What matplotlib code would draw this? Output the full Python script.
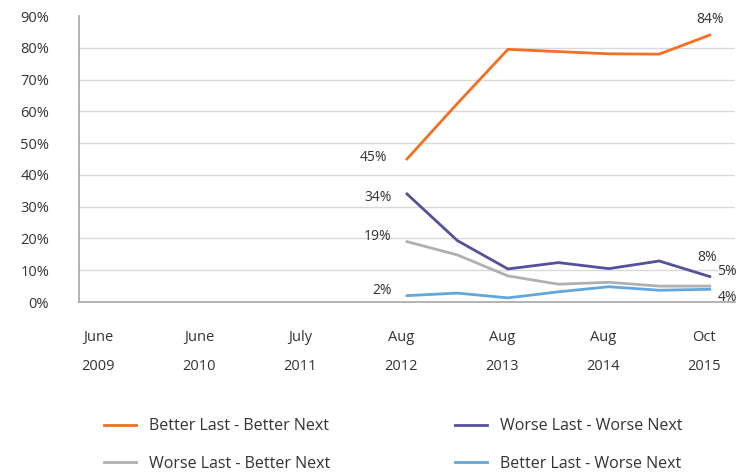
import matplotlib
matplotlib.use("Agg")
import matplotlib.pyplot as plt
import matplotlib.transforms as mtransforms
from matplotlib.lines import Line2D

plt.rcParams["font.family"] = ["Open Sans", "DejaVu Sans"]

# half-yearly survey slots; only every other slot gets a label
tick_labels = ["June\n2009", "June\n2010", "July\n2011", "Aug\n2012",
               "Aug\n2013", "Aug\n2014", "Oct\n2015"]
n_slots = 13
first_slot = 6  # survey series starts at Aug 2012

better_better = [45, 62.5, 79.5, 78.8, 78.1, 78.0, 84]
worse_worse = [34, 19.3, 10.4, 12.4, 10.5, 12.9, 8]
worse_better = [19, 14.8, 8.2, 5.6, 6.2, 5.0, 5]
better_worse = [2, 2.8, 1.3, 3.2, 4.8, 3.7, 4]

series = [
    ("Better Last - Better Next", better_better, "#f36f21"),
    ("Worse Last - Worse Next", worse_worse, "#525199"),
    ("Worse Last - Better Next", worse_better, "#b0b0b0"),
    ("Better Last - Worse Next", better_worse, "#5fa7dc"),
]

TEXT = "#333333"

fig = plt.figure(figsize=(7.38, 4.75), dpi=100)
ax = fig.add_axes([79 / 738, 1 - 302 / 475, 656 / 738, 286 / 475])

xs = list(range(first_slot, first_slot + len(better_better)))
for name, vals, color in series:
    ax.plot(xs, vals, color=color, lw=2, solid_joinstyle="miter", zorder=3)

# end-point annotations
lab = dict(color=TEXT, fontsize=10)
ax.text(xs[0] - 0.4, better_better[0] + 0.5, f"{better_better[0]:.0f}%", ha="right", va="center", **lab)
ax.text(xs[0] - 0.3, worse_worse[0] - 1.0, f"{worse_worse[0]:.0f}%", ha="right", va="center", **lab)
ax.text(xs[0] - 0.3, worse_better[0] + 1.5, f"{worse_better[0]:.0f}%", ha="right", va="center", **lab)
ax.text(xs[0] - 0.3, better_worse[0] + 1.5, f"{better_worse[0]:.0f}%", ha="right", va="center", **lab)
ax.text(xs[-1], better_better[-1] + 2.5, f"{better_better[-1]:.0f}%", ha="center", va="bottom", **lab)
ax.text(xs[-1] - 0.05, worse_worse[-1] + 3.5, f"{worse_worse[-1]:.0f}%", ha="center", va="bottom", **lab)
ax.text(xs[-1] + 0.15, worse_better[-1] + 4.5, f"{worse_better[-1]:.0f}%", ha="left", va="center", **lab)
ax.text(xs[-1] + 0.15, better_worse[-1] - 2.5, f"{better_worse[-1]:.0f}%", ha="left", va="center", **lab)

ax.set_xlim(-0.5, n_slots - 0.5)
ax.set_ylim(0, 90)
ax.set_yticks(range(0, 91, 10))
ax.set_yticklabels([f"{v}%" for v in range(0, 91, 10)])
ax.set_xticks(range(0, n_slots, 2))
ax.set_xticklabels(tick_labels, linespacing=2.25)

for y in range(10, 81, 10):
    ax.axhline(y, color="#d9d9d9", lw=1, zorder=1)

for s in ("top", "right"):
    ax.spines[s].set_visible(False)
ax.spines["left"].set_color("#a6a6a6")
ax.spines["bottom"].set_color("#a6a6a6")
ax.spines["left"].set_linewidth(1.2)
ax.spines["bottom"].set_linewidth(1.2)
ax.tick_params(axis="both", length=0, colors=TEXT, labelsize=10.5)
ax.tick_params(axis="y", pad=21.5)
ax.tick_params(axis="x", pad=20)
for t in ax.get_yticklabels():
    t.set_horizontalalignment("right")
# nudge the date labels slightly left of their slot
shift = mtransforms.ScaledTranslation(-6 / 100, 0, fig.dpi_scale_trans)
for t in ax.get_xticklabels():
    t.set_transform(t.get_transform() + shift)

handles = [Line2D([], [], color=c, lw=2) for _, _, c in series]
names = [n for n, _, _ in series]
order = [0, 2, 1, 3]
fig.legend([handles[i] for i in order], [names[i] for i in order],
           ncol=2, loc="upper left", bbox_to_anchor=(90 / 738, 1 - 404 / 475),
           frameon=False, fontsize=11.5, labelcolor=TEXT, handlelength=2.0,
           handletextpad=0.8, columnspacing=7.8, labelspacing=1.35)

fig.savefig("out.png", dpi=100)
